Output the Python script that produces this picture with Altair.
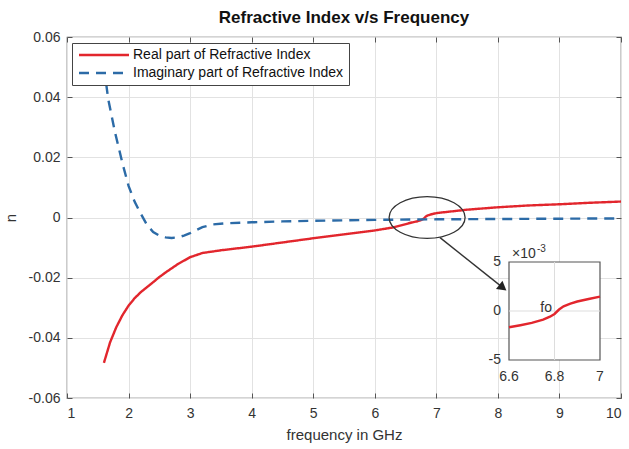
import altair as alt
import pandas as pd

# Real part of the refractive index, n'(f)
freq_real = [1.6, 1.7, 1.8, 1.9, 2.0, 2.1, 2.2, 2.4, 2.5, 2.6, 2.8, 3.0, 3.2, 3.5,
             4.0, 4.5, 5.0, 5.5, 6.0, 6.3, 6.6, 6.65, 6.7, 6.75, 6.78, 6.8, 6.82,
             6.84, 6.87, 6.9, 6.95, 7.0, 7.5, 8.0, 8.5, 9.0, 9.5, 10.0]
n_real = [-0.0483, -0.0415, -0.0365, -0.0325, -0.0293, -0.0268, -0.0248, -0.0215,
          -0.0198, -0.0183, -0.0155, -0.0132, -0.0118, -0.0109, -0.0097, -0.0083,
          -0.0069, -0.0056, -0.0043, -0.0033, -0.00166, -0.00145, -0.00122,
          -0.00088, -0.00058, -0.00030, 0.00015, 0.00048, 0.00075, 0.00097,
          0.00122, 0.00146, 0.0026, 0.0034, 0.0040, 0.0044, 0.0049, 0.0053]

# Imaginary part of the refractive index, n''(f)
freq_imag = [1.6, 1.67, 1.78, 1.9, 2.0, 2.1, 2.2, 2.3, 2.4, 2.5, 2.6, 2.7, 2.8, 2.9,
             3.0, 3.1, 3.2, 3.37, 3.6, 4.0, 4.5, 5.0, 6.0, 7.0, 8.0, 9.0, 10.0]
n_imag = [0.050, 0.0393, 0.0283, 0.0181, 0.0105, 0.0052, 0.0012, -0.0025, -0.0048,
          -0.0060, -0.0066, -0.0068, -0.0066, -0.0060, -0.0052, -0.0042, -0.0032,
          -0.0023, -0.0019, -0.0016, -0.0013, -0.0011, -0.0008, -0.0006, -0.0005,
          -0.0004, -0.0003]

series_names = ["Real part of Refractive Index", "Imaginary part of Refractive Index"]
series_colors = ["#e2262d", "#2c6ba7"]
series_dash = [[1, 0], [10, 7]]

x_ticks = [1, 2, 3, 4, 5, 6, 7, 8, 9, 10]
y_ticks = [-0.06, -0.04, -0.02, 0, 0.02, 0.04, 0.06]

# zoomed inset around the zero crossing
inset_x_domain = [6.6, 7.0]
inset_y_domain = [-0.005, 0.005]
inset_x_ticks = [6.6, 6.8, 7.0]
inset_x_labels = ["6.6", "6.8", "7"]
inset_y_ticks = [-0.005, 0.0, 0.005]
inset_y_labels = ["-5", "0", "5"]

# annotation: ellipse around the crossing and the arrow pointing to the inset
ring_f = [6.85]
ring_n = [0.0]
arrow_f = [7.06, 8.08]
arrow_n = [-0.0067, -0.0233]

W, H = 554, 361
FONT = "Liberation Sans"
TXT = "#333333"
FRAME = "#555555"

df = pd.concat([
    pd.DataFrame({"f": freq_real, "n": n_real, "series": series_names[0]}),
    pd.DataFrame({"f": freq_imag, "n": n_imag, "series": series_names[1]}),
], ignore_index=True)
df_real = pd.DataFrame({"f": freq_real, "n": n_real})

xs = alt.Scale(domain=[1, 10], nice=False)
ys = alt.Scale(domain=[-0.06, 0.06], nice=False)

y_label_expr = ("datum.value == 0 ? '0' : (datum.value < 0 ? '-' : '') + "
                "format(abs(datum.value), '.2f')")

# wide, flat legend sample line: the path runs past the nominal symbol box
legend = alt.Legend(
    title=None, orient="none", legendX=5, legendY=6,
    symbolType="M -1 0 L 9 0", symbolSize=100, symbolStrokeWidth=2.4,
    symbolFillColor="transparent",
    labelFontSize=14, labelFont=FONT, labelColor="#111111", labelOffset=42,
    labelLimit=400, padding=5, rowPadding=4,
    strokeColor="#444444", fillColor="white",
)

lines = alt.Chart(df).mark_line(strokeWidth=2.4, clip=True).encode(
    x=alt.X("f:Q", scale=xs, axis=alt.Axis(
        orient="bottom", values=x_ticks, title="frequency in GHz",
        offset=-5, tickSize=5, domain=False, grid=True,
        labelPadding=8, titlePadding=7)),
    y=alt.Y("n:Q", scale=ys, axis=alt.Axis(
        orient="left", values=y_ticks, title="n", labelExpr=y_label_expr,
        offset=-5, tickSize=5, domain=False, grid=True,
        labelPadding=7, titlePadding=10)),
    color=alt.Color("series:N", scale=alt.Scale(domain=series_names, range=series_colors),
                    legend=legend),
    strokeDash=alt.StrokeDash("series:N", scale=alt.Scale(domain=series_names, range=series_dash),
                              legend=legend),
    detail="series:N",
)

# inward ticks on the top and right edges of the box
box_ticks = alt.Chart(df_real).mark_line(opacity=0).encode(
    x=alt.X("f:Q", scale=xs, axis=alt.Axis(
        orient="top", values=x_ticks, labels=False, title=None,
        offset=-5, tickSize=5, domain=False, grid=False)),
    y=alt.Y("n:Q", scale=ys, axis=alt.Axis(
        orient="right", values=y_ticks, labels=False, title=None,
        offset=-5, tickSize=5, domain=False, grid=False)),
)

ring = alt.Chart(pd.DataFrame({"f": ring_f, "n": ring_n})).mark_point(
    shape="M -1 0 A 1 0.55 0 1 0 1 0 A 1 0.55 0 1 0 -1 0",
    size=5776, filled=False, stroke="#333333", strokeWidth=1.3, opacity=1,
).encode(
    x=alt.X("f:Q", scale=xs, axis=None),
    y=alt.Y("n:Q", scale=ys, axis=None),
)

arrow_df = pd.DataFrame({"f0": [arrow_f[0]], "n0": [arrow_n[0]],
                         "f1": [arrow_f[1]], "n1": [arrow_n[1]]})
arrow_line = alt.Chart(arrow_df).mark_rule(color="#333333", strokeWidth=1.4).encode(
    x=alt.X("f0:Q", scale=xs, axis=None),
    y=alt.Y("n0:Q", scale=ys, axis=None),
    x2="f1:Q",
    y2="n1:Q",
)
arrow_head = alt.Chart(arrow_df).mark_point(
    shape="triangle-right", filled=True, color="#222222", size=110, angle=38, opacity=1,
).encode(
    x=alt.X("f1:Q", scale=xs, axis=None),
    y=alt.Y("n1:Q", scale=ys, axis=None),
)

main = alt.layer(lines, box_ticks, ring, arrow_line, arrow_head).resolve_axis(
    x="independent", y="independent")

# ---- inset: zoom of the real part around 6.6 - 7 GHz ----
ixs = alt.Scale(domain=inset_x_domain, range=[442, 533], nice=False)
iys = alt.Scale(domain=inset_y_domain, range=[323, 225], nice=False)

box_df = pd.DataFrame({"x0": [inset_x_domain[0]], "x1": [inset_x_domain[1]],
                       "y0": [inset_y_domain[0]], "y1": [inset_y_domain[1]]})
inset_bg = alt.Chart(box_df).mark_rect(fill="white", stroke=FRAME, strokeWidth=1.2).encode(
    x=alt.X("x0:Q", scale=ixs, axis=None),
    x2="x1:Q",
    y=alt.Y("y0:Q", scale=iys, axis=None),
    y2="y1:Q",
)
grid_v = alt.Chart(pd.DataFrame({"x": [6.8], "y0": [inset_y_domain[0]], "y1": [inset_y_domain[1]]})
                   ).mark_rule(color="#dddddd", strokeWidth=1).encode(
    x=alt.X("x:Q", scale=ixs, axis=None),
    y=alt.Y("y0:Q", scale=iys, axis=None),
    y2="y1:Q",
)
grid_h = alt.Chart(pd.DataFrame({"y": [0.0], "x0": [inset_x_domain[0]], "x1": [inset_x_domain[1]]})
                   ).mark_rule(color="#dddddd", strokeWidth=1).encode(
    y=alt.Y("y:Q", scale=iys, axis=None),
    x=alt.X("x0:Q", scale=ixs, axis=None),
    x2="x1:Q",
)
inset_line = alt.Chart(df_real).transform_filter(
    (alt.datum.f >= inset_x_domain[0]) & (alt.datum.f <= inset_x_domain[1])
).mark_line(color=series_colors[0], strokeWidth=2.4).encode(
    x=alt.X("f:Q", scale=ixs, axis=None),
    y=alt.Y("n:Q", scale=iys, axis=None),
)

# inset tick labels
ix_lab = alt.Chart(pd.DataFrame({"v": inset_x_ticks, "t": inset_x_labels,
                                 "y": [inset_y_domain[0]] * 3})).mark_text(
    baseline="top", align="center", dy=10, fontSize=14, font=FONT, color=TXT,
).encode(x=alt.X("v:Q", scale=ixs, axis=None), y=alt.Y("y:Q", scale=iys, axis=None), text="t:N")
iy_lab = alt.Chart(pd.DataFrame({"v": inset_y_ticks, "t": inset_y_labels,
                                 "x": [inset_x_domain[0]] * 3})).mark_text(
    baseline="middle", align="right", dx=-8, fontSize=14, font=FONT, color=TXT,
).encode(x=alt.X("x:Q", scale=ixs, axis=None), y=alt.Y("v:Q", scale=iys, axis=None), text="t:N")

label_df = pd.DataFrame({"x": [inset_x_domain[0]], "y": [inset_y_domain[1]]})
exp_base = alt.Chart(label_df).mark_text(
    text="×10", align="left", baseline="bottom", dx=3, dy=-1,
    fontSize=14, font=FONT, color=TXT,
).encode(x=alt.X("x:Q", scale=ixs, axis=None), y=alt.Y("y:Q", scale=iys, axis=None))
exp_power = alt.Chart(label_df).mark_text(
    text="-3", align="left", baseline="bottom", dx=28, dy=-8,
    fontSize=10, font=FONT, color=TXT,
).encode(x=alt.X("x:Q", scale=ixs, axis=None), y=alt.Y("y:Q", scale=iys, axis=None))
fo_label = alt.Chart(pd.DataFrame({"x": [6.763], "y": [0.0003]})).mark_text(
    text="fo", align="center", baseline="middle", fontSize=14, font=FONT, color=TXT,
).encode(x=alt.X("x:Q", scale=ixs, axis=None), y=alt.Y("y:Q", scale=iys, axis=None))

inset = alt.layer(inset_bg, grid_v, grid_h, inset_line, ix_lab, iy_lab,
                  exp_base, exp_power, fo_label)

chart = alt.layer(main, inset).resolve_scale(
    x="independent", y="independent"
).properties(
    width=W, height=H,
    autosize=alt.AutoSizeParams(type="none"),
    padding={"left": 67, "top": 37, "right": 8, "bottom": 51},
    background="white",
    title=alt.TitleParams("Refractive Index v/s Frequency", fontSize=17, fontWeight="bold",
                          font=FONT, color="#111111", offset=3, anchor="middle"),
).configure_axis(
    labelFont=FONT, labelFontSize=14, labelColor=TXT,
    titleFont=FONT, titleFontSize=15, titleColor=TXT, titleFontWeight="normal",
    tickColor=FRAME, gridColor="#e2e2e2", gridWidth=1,
).configure_view(
    stroke=FRAME, strokeWidth=1.2,
)

chart.save("out.html", embed_options={"renderer": "svg", "actions": False})
